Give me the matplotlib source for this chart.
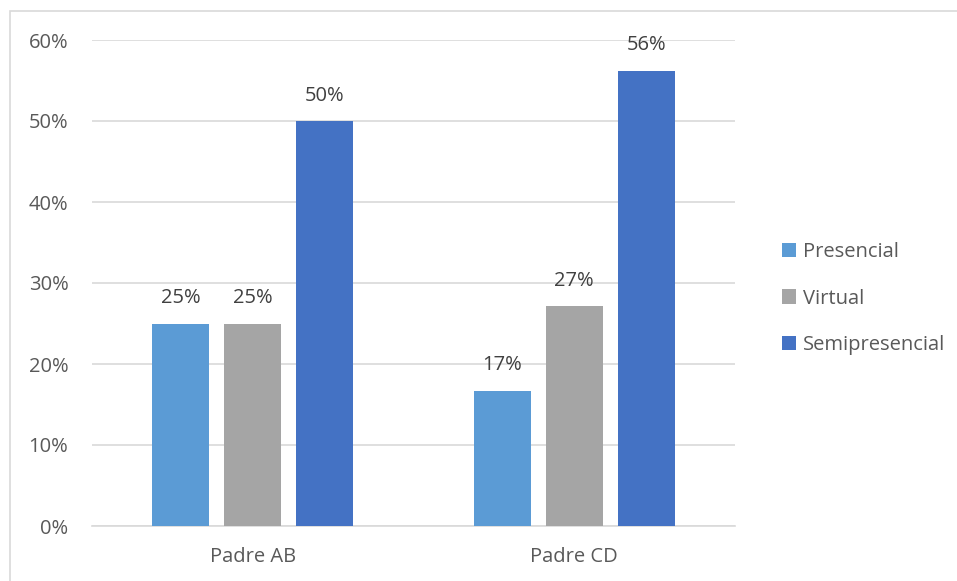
import matplotlib
matplotlib.use("Agg")
import matplotlib.pyplot as plt
from matplotlib.patches import Rectangle
import numpy as np

plt.rcParams['font.family'] = ['Open Sans', 'DejaVu Sans']

categories = ["Padre AB", "Padre CD"]
series_names = ["Presencial", "Virtual", "Semipresencial"]
presencial = [25.0, 16.7]
virtual = [25.0, 27.1]
semipresencial = [50.0, 56.2]
y_ticks = [0, 10, 20, 30, 40, 50, 60]

colors = ["#5B9BD5", "#A5A5A5", "#4472C4"]
text_color = "#595959"
fs = 14.5

fig = plt.figure(figsize=(9.57, 5.81), dpi=100)
W, H = 957, 581

# outer chart border
fig.patches.append(Rectangle((10 / W, -0.01), (W + 5) / W, (H - 11) / H + 0.01,
                             transform=fig.transFigure, fill=False,
                             edgecolor="#D9D9D9", linewidth=1.2))

ax = fig.add_axes([92 / W, (H - 526) / H, (735 - 92) / W, (526 - 40) / H])

x = np.arange(len(categories))
width = 0.177
step = 0.2236
for i, (name, vals) in enumerate(zip(series_names, [presencial, virtual, semipresencial])):
    pos = x + (i - 1) * step
    ax.bar(pos, vals, width=width, color=colors[i], label=name, zorder=3)
    for xb, v in zip(pos, vals):
        ax.text(xb, v + 1.9, f"{v:.0f}%", ha="center", va="bottom",
                fontsize=fs, color="#404040")

ax.set_xlim(-0.5, 1.5)
ax.set_ylim(0, 60)
ax.set_yticks(y_ticks)
ax.set_yticklabels([f"{t}%" for t in y_ticks])
ax.set_xticks(x)
ax.set_xticklabels(categories)
ax.yaxis.grid(True, color="#D9D9D9", linewidth=1.2, zorder=0)
for s in ["top", "right", "left"]:
    ax.spines[s].set_visible(False)
ax.spines["bottom"].set_color("#D9D9D9")
ax.spines["bottom"].set_linewidth(1.2)
ax.tick_params(axis="both", length=0, labelsize=fs, colors=text_color)
ax.tick_params(axis="y", pad=17)
ax.tick_params(axis="x", pad=15)

leg = ax.legend(loc="center left", bbox_to_anchor=(1.045, 0.468), frameon=False,
                fontsize=fs, handlelength=0.7, handleheight=0.7,
                handletextpad=0.35, labelspacing=1.3)
for t in leg.get_texts():
    t.set_color(text_color)

fig.savefig("out.png", dpi=100)
